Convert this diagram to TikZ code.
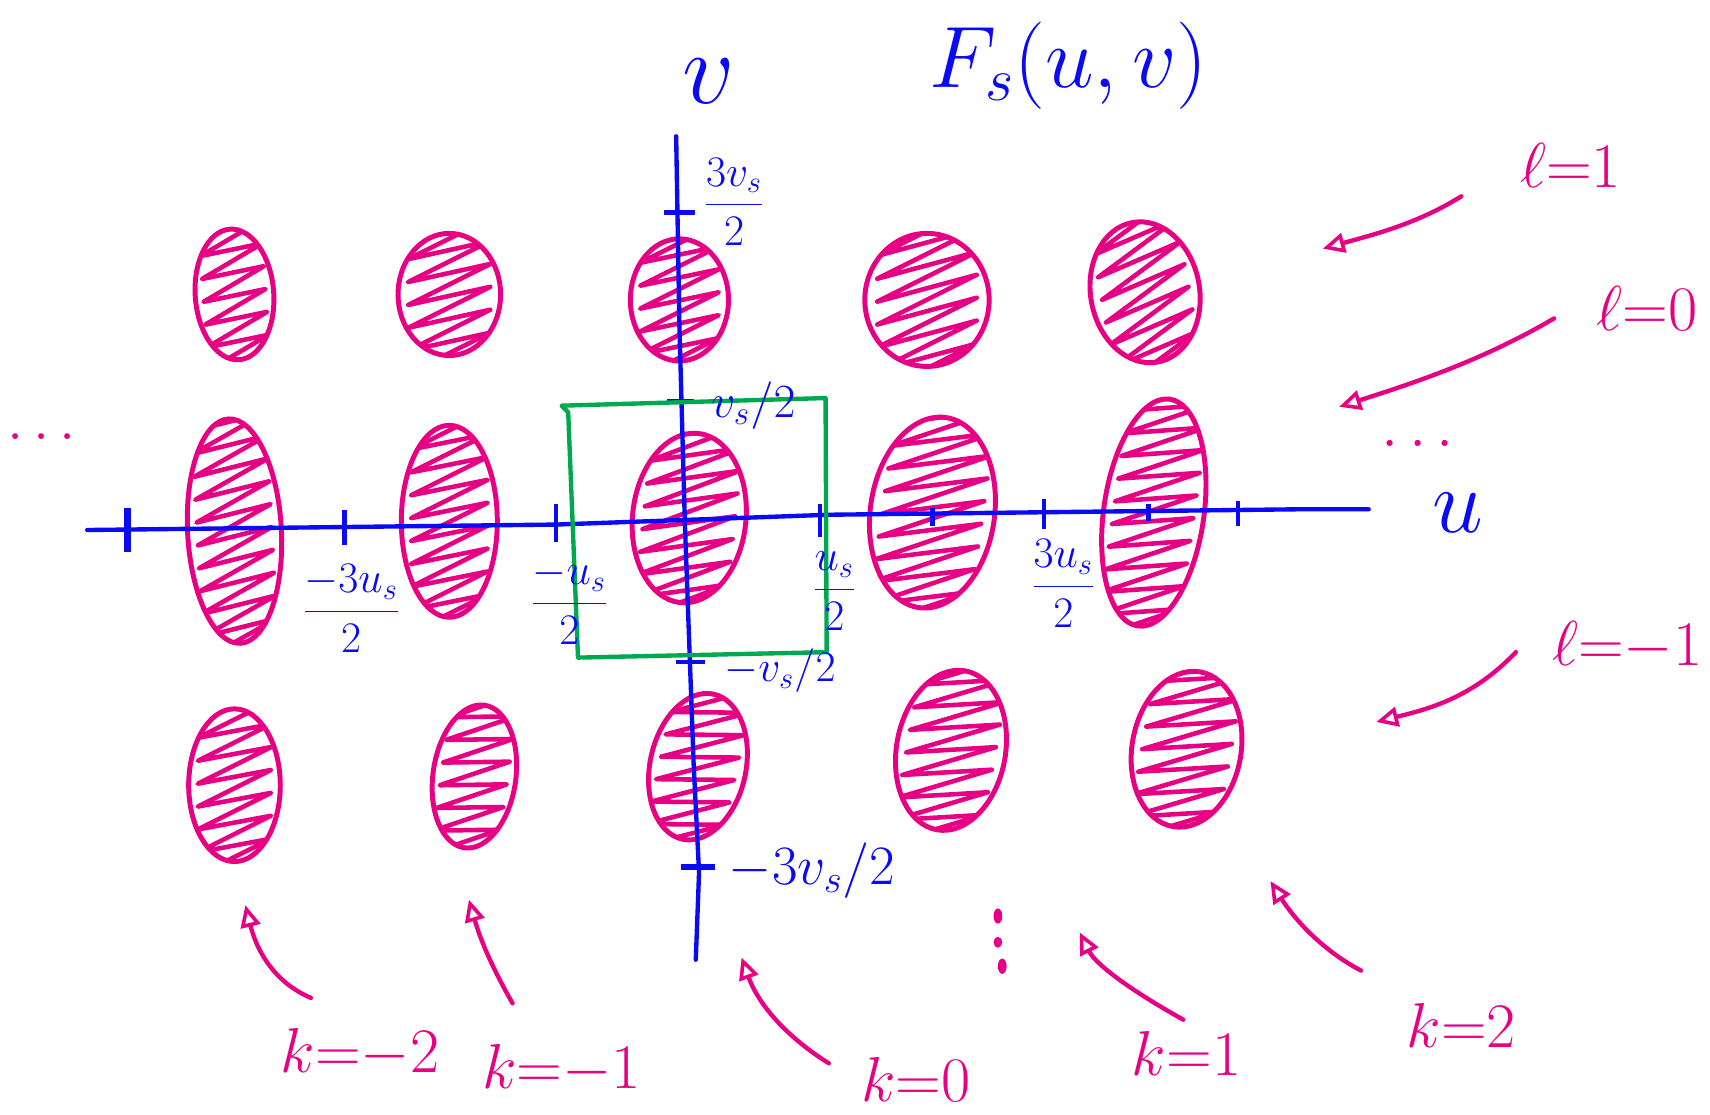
\RequirePackage{fix-cm}
\documentclass[tikz,border=0pt]{standalone}
\usetikzlibrary{arrows.meta,calc}
\definecolor{penblue}{RGB}{10,10,245}
\definecolor{penpink}{RGB}{232,0,132}
\definecolor{pengreen}{RGB}{0,168,80}
\tikzset{
 axis/.style={penblue, line width=2.2pt, line cap=round, line join=round},
 tickmark/.style={penblue, line width=2.2pt},
 blobline/.style={penpink, line width=2.5pt},
 hatch/.style={penpink, line width=2.3pt, line join=round},
 window/.style={pengreen, line width=2.2pt, line join=round},
 pointer/.style={penpink, line width=2.2pt, line cap=round, -{Triangle[open,length=11pt,width=10pt,line width=1.8pt]}},
 bluetext/.style={text=penblue, inner sep=0pt},
 pinktext/.style={text=penpink, inner sep=0pt},
 dotmark/.style={fill=penpink, draw=none},
}
\newcommand\fs[1]{\fontsize{#1}{#1}\selectfont}
\newcommand\blob[5][0]{%
 \begin{scope}[rotate around={#1:(#2,#3)}]
  \begin{scope}
   \clip (#2,#3) ellipse [x radius=#4, y radius=#5];
   \pgfmathtruncatemacro\nz{(2*#5+0.8*#4)/21+1}
   \draw[hatch] ({#2-0.8*#4},{#3+#5+0.8*#4})
     \foreach \i [evaluate=\i as \ty using {#3+#5+0.8*#4-\i*21}] in {0,...,\nz}
       { -- ({#2+0.8*#4},{\ty-0.8*#4}) -- ({#2-0.8*#4},{\ty-21}) };
  \end{scope}
  \draw[blobline] (#2,#3) ellipse [x radius=#4, y radius=#5];
 \end{scope}}
\begin{document}
\begin{tikzpicture}[x=0.55pt,y=-0.55pt]
\fill[white] (0,0) rectangle (1568,1022);
\useasboundingbox (0,0) rectangle (1568,1022);

% blobs: top row (l=1)
\blob[4]{215}{270}{36}{60}
\blob{412}{270}{47}{56}
\blob{623}{275}{45}{56}
\blob{850}{275}{57}{61}
\blob[10]{1050}{268}{50}{65}
% middle row (l=0)
\blob[3]{215}{487}{43}{103}
\blob{412}{478}{44}{88}
\blob[-6]{632}{475}{52}{78}
\blob[-8]{855}{470}{57}{88}
\blob[-8]{1058}{470}{46}{105}
% bottom row (l=-1)
\blob{215}{720}{42}{70}
\blob[-8]{435}{712}{38}{66}
\blob[-12]{640}{703}{44}{68}
\blob[-10]{872}{688}{50}{74}
\blob[-10]{1088}{687}{50}{72}

% axes
\coordinate (uL) at (80,486);
\coordinate (uR) at (1255,467);
\coordinate (vT) at (620,125);
\coordinate (vB) at (638,880);
\draw[axis] (uL) -- (510,481) -- (760,472) -- (1190,467) -- (uR);
\draw[axis] (vT) -- (623,300) -- (628,480) -- (636,700) -- (641,800) -- (vB);

% ticks on u
\draw[tickmark, line width=3.6pt] (117,466) -- (117,506);
\draw[tickmark] (316,468) -- (316,500);
\draw[tickmark] (510,462) -- (510,497);
\draw[tickmark] (752,462) -- (752,492);
\draw[tickmark] (855,466) -- (855,482);
\draw[tickmark] (957,458) -- (957,485);
\draw[tickmark] (1053,462) -- (1053,478);
\draw[tickmark] (1135,459) -- (1135,482);
% ticks on v
\draw[tickmark] (609,195) -- (637,195);
\draw[tickmark] (612,368) -- (636,368);
\draw[tickmark] (620,607) -- (646,607);
\draw[tickmark, line width=3pt] (624,795) -- (656,795);

% green window
\coordinate (g1) at (515,372);
\coordinate (g2) at (757,365);
\coordinate (g3) at (758,598);
\coordinate (g4) at (530,603);
\draw[window] (g1) -- (g2) -- (g3) -- (g4) -- (521,378) -- cycle;

% blue labels
\node[bluetext] (vlab) at (650,75) {\fs{52}$v$};
\node[bluetext] (title) at (980,60) {\fs{44}$F_s(u,v)$};
\node[bluetext] (ulab) at (1337,470) {\fs{46}$u$};
\node[bluetext,anchor=west] (t3v) at (645,185) {\fs{22}$\displaystyle\frac{3v_s}{2}$};
\node[bluetext,anchor=west] (tv) at (652,372) {\fs{24}$v_s/2$};
\node[bluetext,anchor=west] (tmv) at (664,615) {\fs{22}$-v_s/2$};
\node[bluetext,anchor=west] (tm3v) at (668,798) {\fs{28}$-3v_s/2$};
\node[bluetext] (tm3u) at (322,558) {\fs{22}$\displaystyle\frac{-3u_s}{2}$};
\node[bluetext] (tmu) at (522,552) {\fs{22}$\displaystyle\frac{-u_s}{2}$};
\node[bluetext] (tu) at (765,542) {\fs{22}$\displaystyle\frac{u_s}{2}$};
\node[bluetext] (t3u) at (975,535) {\fs{22}$\displaystyle\frac{3u_s}{2}$};

% dots
\node[pinktext] (dotsL) at (38,400) {\fs{30}$\ldots$};
\node[pinktext] (dotsR) at (1300,407) {\fs{32}$\ldots$};
\fill[dotmark] (915,840) ellipse [x radius=4, y radius=7];
\fill[dotmark] (915,864) ellipse [x radius=4, y radius=5];
\fill[dotmark] (919,886) ellipse [x radius=4, y radius=7];

% row labels and pointers
\node[pinktext] (l1) at (1440,152) {\fs{32}$\ell{=}1$};
\node[pinktext] (l0) at (1510,283) {\fs{32}$\ell{=}0$};
\node[pinktext] (lm1) at (1492,592) {\fs{32}$\ell{=}{-}1$};
\coordinate (l1s) at (1340,180);   \coordinate (l1e) at (1213,228);
\coordinate (l0s) at (1425,292);   \coordinate (l0e) at (1228,373);
\coordinate (lm1s) at (1390,598);  \coordinate (lm1e) at (1262,662);
\draw[pointer] (l1s) .. controls (1300,205) and (1260,215) .. (l1e);
\draw[pointer] (l0s) .. controls (1360,330) and (1300,350) .. (l0e);
\draw[pointer] (lm1s) .. controls (1350,640) and (1310,650) .. (lm1e);

% column labels and pointers
\node[pinktext] (km2) at (330,966) {\fs{32}$k{=}{-}2$};
\node[pinktext] (km1) at (515,980) {\fs{32}$k{=}{-}1$};
\node[pinktext] (k0) at (840,990) {\fs{32}$k{=}0$};
\node[pinktext] (k1) at (1088,966) {\fs{32}$k{=}1$};
\node[pinktext] (k2) at (1340,940) {\fs{32}$k{=}2$};
\coordinate (km2s) at (285,915);  \coordinate (km2e) at (225,830);
\coordinate (km1s) at (470,920);  \coordinate (km1e) at (430,825);
\coordinate (k0s) at (760,975);   \coordinate (k0e) at (680,878);
\coordinate (k1s) at (1085,935);  \coordinate (k1e) at (990,855);
\coordinate (k2s) at (1248,890);  \coordinate (k2e) at (1165,808);
\draw[pointer] (km2s) .. controls (250,900) and (235,870) .. (km2e);
\draw[pointer] (km1s) .. controls (450,885) and (440,860) .. (km1e);
\draw[pointer] (k0s) .. controls (720,950) and (695,920) .. (k0e);
\draw[pointer] (k1s) .. controls (1040,910) and (1005,885) .. (k1e);
\draw[pointer] (k2s) .. controls (1210,870) and (1185,840) .. (k2e);
\end{tikzpicture}
\end{document}
